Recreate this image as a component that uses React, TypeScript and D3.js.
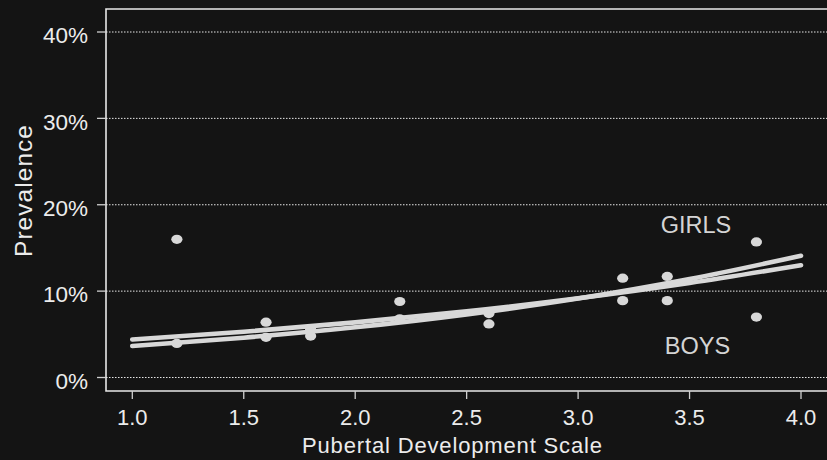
import React from "react";
import * as d3 from "d3";

const xTicks = [1.0, 1.5, 2.0, 2.5, 3.0, 3.5, 4.0];
const yTicks = [0, 0.1, 0.2, 0.3, 0.4];

const girlsX = [1.2, 1.6, 1.8, 2.2, 2.6, 3.2, 3.4, 3.8];
const girlsY = [0.16, 0.064, 0.056, 0.088, 0.074, 0.115, 0.117, 0.157];
const boysX = [1.2, 1.6, 1.8, 2.2, 2.6, 3.2, 3.4, 3.8];
const boysY = [0.0395, 0.0465, 0.048, 0.068, 0.062, 0.089, 0.089, 0.07];

const curveX = [1.0, 1.5, 2.0, 2.5, 3.0, 3.5, 4.0];
const girlsFit = [0.0365, 0.0461, 0.0581, 0.0731, 0.0914, 0.1139, 0.141];
const boysFit = [0.044, 0.053, 0.0638, 0.0766, 0.0917, 0.1094, 0.13];

const W = 827;
const H = 460;
const BG = "#141414";
const FG = "#ececec";
const MARK = "#d8d8d8";

export default function App() {
  const x = d3.scaleLinear().domain([1, 4]).range([132.3, 801]);
  const y = d3.scaleLinear().domain([0, 0.4]).range([377.5, 32]);
  const fmt = d3.format(".1f");
  const pct = (v: number) => `${Math.round(v * 100)}%`;

  const line = d3
    .line<[number, number]>()
    .x((d) => x(d[0]))
    .y((d) => y(d[1]))
    .curve(d3.curveMonotoneX);

  const girlsPath = line(curveX.map((v, i) => [v, girlsFit[i]] as [number, number])) || "";
  const boysPath = line(curveX.map((v, i) => [v, boysFit[i]] as [number, number])) || "";

  const font = "'Liberation Sans', Arial, Helvetica, sans-serif";
  const left = 106;
  const top = 9;
  const bottom = 391;

  return (
    <svg
      width={W}
      height={H}
      style={{ position: "absolute", left: 0, top: 0, background: BG }}
      fontFamily={font}
    >
      <rect x={0} y={0} width={W} height={H} fill={BG} />
      {/* gridlines */}
      {yTicks.map((t) => (
        <line
          key={"g" + t}
          x1={left}
          x2={W}
          y1={y(t)}
          y2={y(t)}
          stroke="#e6e6e6"
          strokeWidth={1}
          strokeDasharray="1.5 1.5"
        />
      ))}
      {/* box */}
      <path
        d={`M${W + 5},${top} H${left} V${bottom} H${W + 5}`}
        fill="none"
        stroke="#e8e8e8"
        strokeWidth={1.6}
      />
      {/* y ticks */}
      {yTicks.map((t) => (
        <g key={"y" + t}>
          <line x1={97} x2={left} y1={y(t)} y2={y(t)} stroke="#cfcfcf" strokeWidth={1.3} />
          <text x={88} y={y(t) + 11.3} textAnchor="end" fontSize={22.5} fill={FG}>
            {pct(t)}
          </text>
        </g>
      ))}
      {/* x ticks */}
      {xTicks.map((t) => (
        <g key={"x" + t}>
          <line x1={x(t)} x2={x(t)} y1={bottom} y2={399} stroke="#cfcfcf" strokeWidth={1.3} />
          <text x={x(t)} y={425} textAnchor="middle" fontSize={22} fill={FG}>
            {fmt(t)}
          </text>
        </g>
      ))}
      {/* axis titles */}
      <text
        x={452}
        y={453}
        textAnchor="middle"
        fontSize={22}
        fill={FG}
        textLength={300}
        lengthAdjust="spacing"
      >
        Pubertal Development Scale
      </text>
      <text
        transform={`translate(32,191) rotate(-90)`}
        textAnchor="middle"
        fontSize={24.5}
        fill={FG}
        textLength={132}
        lengthAdjust="spacing"
      >
        Prevalence
      </text>
      {/* points */}
      {girlsX.map((v, i) => (
        <ellipse key={"gp" + i} cx={x(v)} cy={y(girlsY[i])} rx={5.6} ry={4.6} fill={MARK} />
      ))}
      {boysX.map((v, i) => (
        <ellipse key={"bp" + i} cx={x(v)} cy={y(boysY[i])} rx={5.6} ry={4.6} fill={MARK} />
      ))}
      {/* fitted curves */}
      <path d={boysPath} fill="none" stroke={MARK} strokeWidth={4.6} strokeLinecap="round" />
      <path d={girlsPath} fill="none" stroke={MARK} strokeWidth={4.6} strokeLinecap="round" />
      {/* group labels */}
      <text x={696} y={233} textAnchor="middle" fontSize={23.5} fill="#d4d4d4">
        GIRLS
      </text>
      <text x={697.5} y={354} textAnchor="middle" fontSize={23.5} fill="#d4d4d4">
        BOYS
      </text>
    </svg>
  );
}
